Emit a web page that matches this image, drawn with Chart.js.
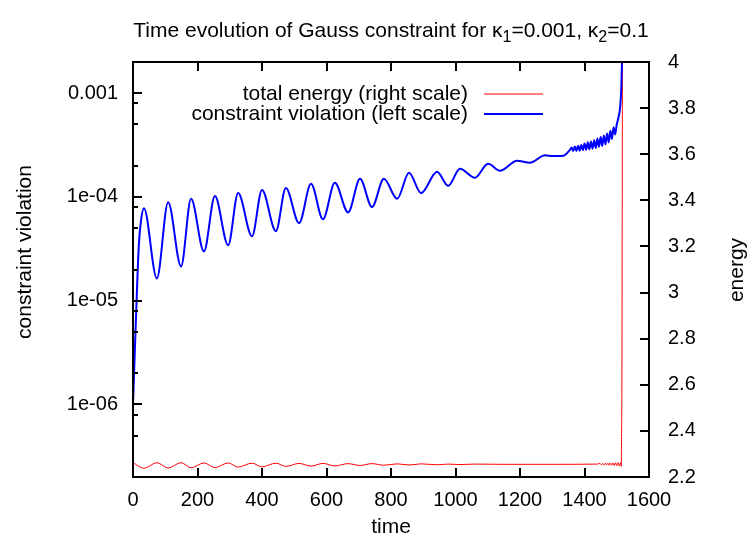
<!DOCTYPE html>
<html>
<head>
<meta charset="utf-8">
<script src="https://cdn.jsdelivr.net/npm/chart.js@4.4.1/dist/chart.umd.min.js"></script>
<style>
  html, body { margin: 0; padding: 0; background: #fff; }
  canvas { display: block; }
</style>
</head>
<body>
<canvas id="gauss" width="756" height="540"></canvas>
<script>
// ── data ────────────────────────────────────────────────────
const violationTime = [
  0, 6, 12, 18, 25, 34, 74, 109, 149, 180, 220, 254, 295, 326, 369, 400, 443, 474,
  515, 552, 589, 626, 667, 704, 741, 778, 819, 856, 893, 943, 977, 1014, 1060,
  1101, 1138, 1191, 1231, 1278, 1300, 1335, 1355,
  1360, 1365, 1370, 1375, 1380, 1385, 1390, 1395, 1400, 1405, 1410, 1415, 1420,
  1425, 1430, 1435, 1440, 1445, 1450, 1455, 1460, 1465, 1470, 1475, 1480, 1485,
  1490, 1495, 1500, 1505, 1510, 1514, 1517, 1519
];
const violationValue = [
  1.0e-6, 3.5e-6, 1.2e-5, 3.4e-5, 6.0e-5, 7.8e-5, 1.64e-5, 8.9e-5, 2.14e-5, 9.6e-5,
  2.99e-5, 1.02e-4, 3.42e-5, 1.09e-4, 4.18e-5, 1.17e-4, 4.68e-5, 1.22e-4,
  5.6e-5, 1.34e-4, 6.1e-5, 1.37e-4, 7.1e-5, 1.50e-4, 8.0e-5, 1.50e-4, 9.6e-5,
  1.71e-4, 1.09e-4, 1.75e-4, 1.28e-4, 1.87e-4, 1.53e-4,
  2.09e-4, 1.79e-4, 2.24e-4, 2.14e-4, 2.52e-4, 2.48e-4, 2.50e-4, 2.85e-4,
  3.00e-4, 2.78e-4, 3.06e-4, 2.78e-4, 3.12e-4, 2.79e-4, 3.17e-4, 2.82e-4, 3.27e-4,
  2.85e-4, 3.37e-4, 2.88e-4, 3.42e-4, 2.92e-4, 3.53e-4, 2.96e-4, 3.66e-4, 3.05e-4,
  3.78e-4, 3.10e-4, 3.92e-4, 3.20e-4, 4.10e-4, 3.36e-4, 4.35e-4, 3.62e-4,
  4.70e-4, 4.00e-4, 5.0e-4, 5.8e-4, 7.1e-4, 1.1e-3, 2.5e-3, 6.0e-3
];

const energyTime = [
  0, 34, 74, 109, 149, 180, 220, 254, 295, 326, 369, 400, 443, 474, 515, 552, 589,
  626, 667, 704, 741, 778, 819, 856, 893, 943, 977, 1014, 1060, 1150, 1300, 1440,
  1448, 1452, 1456, 1460, 1464, 1468, 1472, 1476, 1480, 1484, 1488, 1492, 1496,
  1500, 1504, 1508, 1512, 1514, 1515, 1516, 1518
];
const energyValue = [
  2.262, 2.238, 2.262, 2.239, 2.262, 2.240, 2.261, 2.241, 2.261, 2.243, 2.260,
  2.244, 2.260, 2.246, 2.259, 2.247, 2.259, 2.248, 2.258, 2.250, 2.258, 2.251,
  2.257, 2.252, 2.257, 2.253, 2.256, 2.254, 2.256, 2.255, 2.255, 2.256,
  2.259, 2.253, 2.259, 2.252, 2.260, 2.252, 2.260, 2.251, 2.261, 2.251, 2.261,
  2.250, 2.262, 2.249, 2.262, 2.248, 2.262, 2.246, 2.40, 2.62, 4.40
];

const timeTicks = [0, 200, 400, 600, 800, 1000, 1200, 1400, 1600];
const violationTicks = [1e-6, 1e-5, 1e-4, 1e-3];
const violationTickLabels = ['1e-06', '1e-05', '1e-04', '0.001'];
const minorMultipliers = [2, 5, 8];
const energyTicks = [2.2, 2.4, 2.6, 2.8, 3, 3.2, 3.4, 3.6, 3.8, 4];
const energyTickLabels = ['2.2', '2.4', '2.6', '2.8', '3', '3.2', '3.4', '3.6', '3.8', '4'];

const seriesNames = ['total energy (right scale)', 'constraint violation (left scale)'];

// ── styling ─────────────────────────────────────────────────
const FONT = "'Liberation Sans', Arial, sans-serif";
const FS = 20;     // tick labels
const FS_TEXT = 21; // title, axis titles, key
const RED = 'rgb(255,0,0)';
const BLUE = 'rgb(0,0,255)';

const toXY = (xs, ys) => xs.map((t, i) => ({ x: t, y: ys[i] }));

// frame, inward ticks, titles and key (gnuplot look)
const gnuplotFrame = {
  id: 'gnuplotFrame',
  afterDraw(chart) {
    const { ctx, chartArea: a, scales } = chart;
    ctx.save();
    ctx.strokeStyle = '#000';
    ctx.lineWidth = 2;
    ctx.strokeRect(a.left, a.top, a.right - a.left, a.bottom - a.top);

    ctx.beginPath();
    timeTicks.forEach(v => {
      const x = Math.round(scales.x.getPixelForValue(v));
      ctx.moveTo(x, a.bottom); ctx.lineTo(x, a.bottom - 9);
      ctx.moveTo(x, a.top); ctx.lineTo(x, a.top + 9);
    });
    violationTicks.forEach(v => {
      const y = Math.round(scales.y.getPixelForValue(v));
      ctx.moveTo(a.left, y); ctx.lineTo(a.left + 9, y);
    });
    for (let d = -7; d <= -3; d++) {
      minorMultipliers.forEach(m => {
        const v = m * Math.pow(10, d);
        if (v <= scales.y.min * 1.01 || v >= scales.y.max * 0.99) return;
        const y = Math.round(scales.y.getPixelForValue(v));
        ctx.moveTo(a.left, y); ctx.lineTo(a.left + 5, y);
      });
    }
    energyTicks.forEach(v => {
      const y = Math.round(scales.y2.getPixelForValue(v));
      ctx.moveTo(a.right, y); ctx.lineTo(a.right - 9, y);
    });
    ctx.stroke();

    // title with subscripts
    ctx.fillStyle = '#000';
    ctx.textBaseline = 'alphabetic';
    const parts = [
      ['Time evolution of Gauss constraint for \u03BA', false],
      ['1', true],
      ['=0.001, \u03BA', false],
      ['2', true],
      ['=0.1', false]
    ];
    const mainFont = `${FS_TEXT}px ${FONT}`;
    const subFont = `${Math.round(FS_TEXT * 0.75)}px ${FONT}`;
    let total = 0;
    parts.forEach(([s, sub]) => { ctx.font = sub ? subFont : mainFont; total += ctx.measureText(s).width; });
    let tx = (a.left + a.right) / 2 - total / 2;
    parts.forEach(([s, sub]) => {
      ctx.font = sub ? subFont : mainFont;
      ctx.fillText(s, tx, sub ? 42 : 37);
      tx += ctx.measureText(s).width;
    });

    // axis titles
    ctx.font = mainFont;
    ctx.textAlign = 'center';
    ctx.textBaseline = 'middle';
    ctx.fillText('time', (a.left + a.right) / 2, 527);
    ctx.save();
    ctx.translate(25, 252);
    ctx.rotate(-Math.PI / 2);
    ctx.fillText('constraint violation', 0, 0);
    ctx.restore();
    ctx.save();
    ctx.translate(737, 270);
    ctx.rotate(-Math.PI / 2);
    ctx.fillText('energy', 0, 0);
    ctx.restore();

    // key
    ctx.textAlign = 'right';
    const rows = [[seriesNames[0], RED, 1, 94], [seriesNames[1], BLUE, 2, 114]];
    rows.forEach(([label, col, w, y]) => {
      ctx.fillStyle = '#000';
      ctx.fillText(label, 468, y);
      ctx.strokeStyle = col;
      ctx.lineWidth = w;
      ctx.beginPath();
      ctx.moveTo(484, y); ctx.lineTo(543, y);
      ctx.stroke();
    });
    ctx.restore();
  }
};

new Chart(document.getElementById('gauss'), {
  type: 'line',
  data: {
    datasets: [
      {
        label: seriesNames[1],
        data: toXY(violationTime, violationValue),
        yAxisID: 'y',
        borderColor: BLUE,
        borderWidth: 2,
        pointRadius: 0,
        cubicInterpolationMode: 'monotone',
        fill: false
      },
      {
        label: seriesNames[0],
        data: toXY(energyTime, energyValue),
        yAxisID: 'y2',
        borderColor: RED,
        borderWidth: 1,
        pointRadius: 0,
        cubicInterpolationMode: 'monotone',
        fill: false
      }
    ]
  },
  options: {
    responsive: false,
    animation: false,
    devicePixelRatio: 1,
    layout: { padding: { top: 62, left: 0, right: 0, bottom: 0 } },
    plugins: {
      legend: { display: false },
      title: { display: false },
      tooltip: { enabled: false }
    },
    scales: {
      x: {
        type: 'linear',
        position: 'bottom',
        min: 0,
        max: 1600,
        grid: { display: false, drawTicks: false },
        border: { display: false },
        afterBuildTicks: s => { s.ticks = timeTicks.map(v => ({ value: v })); },
        afterFit: s => { s.height = 63; },
        ticks: {
          autoSkip: false,
          maxRotation: 0,
          padding: 11,
          color: '#000',
          font: { family: FONT, size: FS },
          callback: v => String(v)
        }
      },
      y: {
        type: 'logarithmic',
        position: 'left',
        min: 2e-7,
        max: 2e-3,
        grid: { display: false, drawTicks: false },
        border: { display: false },
        afterBuildTicks: s => { s.ticks = violationTicks.map(v => ({ value: v, major: true })); },
        afterFit: s => { s.width = 133; },
        ticks: {
          autoSkip: false,
          padding: 15,
          color: '#000',
          font: { family: FONT, size: FS },
          callback: (v, i) => violationTickLabels[i]
        }
      },
      y2: {
        type: 'linear',
        position: 'right',
        min: 2.2,
        max: 4,
        grid: { display: false, drawTicks: false },
        border: { display: false },
        afterBuildTicks: s => { s.ticks = energyTicks.map(v => ({ value: v })); },
        afterFit: s => { s.width = 107; },
        ticks: {
          autoSkip: false,
          padding: 19,
          color: '#000',
          font: { family: FONT, size: FS },
          callback: (v, i) => energyTickLabels[i]
        }
      }
    }
  },
  plugins: [gnuplotFrame]
});
</script>
</body>
</html>
